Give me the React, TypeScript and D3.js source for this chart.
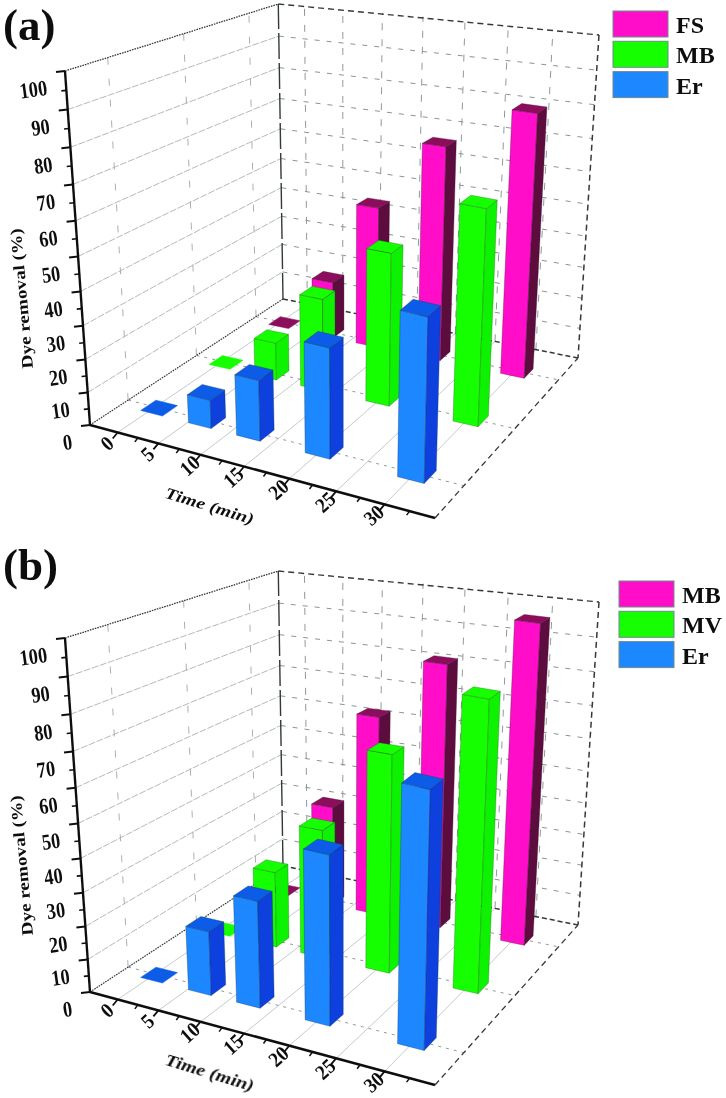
import React from "react";
import * as d3 from "d3";

// Values. Rows go front to back.
const timeTicks = [0, 5, 10, 15, 20, 25, 30];
const minorTimeTicks = [2.5, 7.5, 12.5, 17.5, 22.5, 27.5, 32.5];
const dyeTicks = [0, 10, 20, 30, 40, 50, 60, 70, 80, 90, 100];
const minorDyeTicks = [5, 15, 25, 35, 45, 55, 65, 75, 85, 95];
const barTimes = [0.5, 6.5, 12.3, 20.2, 30.2];

const rowsA = ["Er", "MB", "FS"];
const erA = [0, 8.7, 18.4, 33, 48.4];
const mbA = [0, 12, 29, 47, 65];
const fsA = [0, 19, 46, 68, 81.5];

const rowsB = ["Er", "MV", "MB"];
const erB = [0, 19.5, 32, 50, 74];
const mvB = [0, 24, 40, 66, 86];
const mbB = [0, 33, 64, 82.5, 97.5];

const legendA = ["FS", "MB", "Er"];
const legendB = ["MB", "MV", "Er"];

type Pt = [number, number];

// front-left, front-right, back-right, back-left corners of the box
const floorQuad: Pt[] = [[90, 425], [435, 518], [578, 358], [283, 299]];
const topQuad: Pt[] = [[65, 71], [445, 153], [599, 35], [279, 4]];
// verticals of the box all run to this point far below the picture
const vanish: Pt = [342, 3992];

const rowColors = [
  { front: "#1e87ff", top: "#0f5ce8", side: "#0a40dc", edge: "#12324f" },
  { front: "#12ff00", top: "#12ff00", side: "#10f200", edge: "#1d5a1d" },
  { front: "#ff10c8", top: "#8c0f5c", side: "#5c0d3e", edge: "#3a1030" },
];

function quadMap(q: Pt[]) {
  const [[x0, y0], [x1, y1], [x2, y2], [x3, y3]] = q;
  const dx1 = x1 - x2, dx2 = x3 - x2, sx = x0 - x1 + x2 - x3;
  const dy1 = y1 - y2, dy2 = y3 - y2, sy = y0 - y1 + y2 - y3;
  const den = dx1 * dy2 - dx2 * dy1;
  const g = (sx * dy2 - dx2 * sy) / den;
  const h = (dx1 * sy - sx * dy1) / den;
  const a = x1 - x0 + g * x1, b = x3 - x0 + h * x3;
  const d = y1 - y0 + g * y1, e = y3 - y0 + h * y3;
  return (u: number, w: number): Pt => {
    const k = g * u + h * w + 1;
    return [(a * u + b * w + x0) / k, (d * u + e * w + y0) / k];
  };
}

const floorMap = quadMap(floorQuad);
const topMap = quadMap(topQuad);

const uScale = d3.scaleLinear().domain([-3.5, 35]).range([0, 1]);
const vScale = d3.scaleLinear().domain([0, 100]).range([0, 1]);

// time, depth (0..1), dye value -> screen. The vertical is foreshortened towards the floor.
const foreshorten = 1.1;
function project(t: number, w: number, v: number): Pt {
  const u = uScale(t);
  const a = floorMap(u, w);
  const b = topMap(u, w);
  const s = vScale(v);
  const k = s / (s + (1 - s) * foreshorten);
  const y = a[1] + (b[1] - a[1]) * k;
  const x = a[0] + ((vanish[0] - a[0]) * (y - a[1])) / (vanish[1] - a[1]);
  return [x, y];
}

const lineGen = d3.line<Pt>();
const path = (pts: Pt[]) => lineGen(pts) as string;
const poly = (pts: Pt[]) => path(pts) + "Z";

const halfT = 1.38;
const halfW = 0.035;
const serif = "'Liberation Serif', 'DejaVu Serif', serif";

function Bar({ t, w, v, c }: { t: number; w: number; v: number; c: any }) {
  const t0 = t - halfT, t1 = t + halfT, w0 = w - halfW, w1 = w + halfW;
  const topFace = [project(t0, w0, v), project(t1, w0, v), project(t1, w1, v), project(t0, w1, v)];
  if (v === 0) return <path d={poly(topFace)} fill={c.top} stroke={c.top} strokeWidth={0.5} />;
  const front = [project(t0, w0, 0), project(t1, w0, 0), project(t1, w0, v), project(t0, w0, v)];
  const side = [project(t1, w0, 0), project(t1, w1, 0), project(t1, w1, v), project(t1, w0, v)];
  return (
    <g stroke={c.edge} strokeWidth={0.6} strokeOpacity={0.55} strokeLinejoin="round">
      <path d={poly(front)} fill={c.front} />
      <path d={poly(side)} fill={c.side} />
      <path d={poly(topFace)} fill={c.top} />
    </g>
  );
}

function Panel({ label, labelY, dy, rows, series, legend, legendX, legendY }: any) {
  const band = d3.scaleBand<string>().domain(rows).range([0, 1]);
  const rowW = (r: string) => (band(r) as number) + band.bandwidth() / 2;
  const tMin = uScale.domain()[0];
  const tMax = uScale.domain()[1];
  const c000 = project(tMin, 0, 0), c100 = project(tMax, 0, 0), c110 = project(tMax, 1, 0), c010 = project(tMin, 1, 0);
  const c001 = project(tMin, 0, 100), c011 = project(tMin, 1, 100), c111 = project(tMax, 1, 100);

  return (
    <g>
      <text x={3} y={labelY} fontFamily={serif} fontWeight="bold" fontSize={45} fill="#111">{label}</text>
      <g transform={`translate(0,${dy})`}>
        {/* wall grid */}
        {dyeTicks.slice(1, -1).map((v) => (
          <g key={v} fill="none">
            <path d={path([project(tMin, 0, v), project(tMin, 1, v)])} stroke="#a8b2b2" strokeWidth={0.9} strokeDasharray="7 1.5" />
            <path d={path([project(tMin, 1, v), project(tMax, 1, v)])} stroke="#8a9494" strokeWidth={1} strokeDasharray="5 7" />
          </g>
        ))}
        {rows.map((r: string) => (
          <path key={r} d={path([project(tMin, rowW(r), 0), project(tMin, rowW(r), 100)])} fill="none" stroke="#a8b2b2" strokeWidth={1} strokeDasharray="7 14" />
        ))}
        {timeTicks.map((t) => (
          <path key={t} d={path([project(t, 1, 0), project(t, 1, 100)])} fill="none" stroke="#8f9a9a" strokeWidth={1} strokeDasharray="7 9" />
        ))}
        {/* floor grid */}
        {timeTicks.map((t) => (
          <path key={t} d={path([project(t, 0, 0), project(t, 1, 0)])} fill="none" stroke="#c4cbcb" strokeWidth={1} />
        ))}
        {rows.map((r: string) => (
          <path key={r} d={path([project(tMin, rowW(r), 0), project(tMax, rowW(r), 0)])} fill="none" stroke="#8f9a9a" strokeWidth={1} strokeDasharray="3 5" />
        ))}
        {/* box edges */}
        <g fill="none" stroke="#33393b">
          <path d={path([c001, c011])} strokeWidth={1.3} strokeDasharray="1.6 1" />
          <path d={path([c000, c010])} strokeWidth={1.2} strokeDasharray="1.6 1" />
          <path d={path([c011, c111])} strokeWidth={1.4} strokeDasharray="6 4" />
          <path d={path([c111, c110])} strokeWidth={1.5} strokeDasharray="6 4" />
          <path d={path([c010, c110])} strokeWidth={1.5} strokeDasharray="5 3" />
          <path d={path([c100, c110])} strokeWidth={1.3} strokeDasharray="6 4" />
          <path d={path([c010, c011])} strokeWidth={1.4} strokeDasharray="26 4" />
        </g>
        {/* bars, back row first */}
        {[2, 1, 0].map((i) => (
          <g key={i}>
            {barTimes.map((t, j) => (
              <Bar key={t} t={t} w={rowW(rows[i])} v={series[i][j]} c={rowColors[i]} />
            ))}
          </g>
        ))}
        {/* y axis */}
        <path d={path([c000, c001])} fill="none" stroke="#111" strokeWidth={2.4} />
        {dyeTicks.map((v) => {
          const p = project(tMin, 0, v);
          return (
            <g key={v}>
              <line x1={p[0]} y1={p[1]} x2={p[0] - 9} y2={p[1] + 1} stroke="#111" strokeWidth={2} />
              <text
                transform={`translate(${p[0] - 17},${p[1] + 24}) rotate(-8) scale(0.92,1.12)`}
                textAnchor="end"
                fontFamily={serif}
                fontWeight="bold"
                fontSize={20}
                fill="#111"
              >
                {v}
              </text>
            </g>
          );
        })}
        {minorDyeTicks.map((v) => {
          const p = project(tMin, 0, v);
          return <line key={v} x1={p[0]} y1={p[1]} x2={p[0] - 5} y2={p[1] + 0.5} stroke="#111" strokeWidth={1.6} />;
        })}
        {/* time axis */}
        <path d={path([c000, c100])} fill="none" stroke="#111" strokeWidth={2.6} />
        {timeTicks.map((t) => {
          const p = project(t, 0, 0);
          return (
            <g key={t}>
              <line x1={p[0]} y1={p[1]} x2={p[0] - 5} y2={p[1] + 6} stroke="#111" strokeWidth={1.8} />
              <text
                transform={`translate(${p[0] - 6},${p[1] + 16}) rotate(-42) scale(1,1.1)`}
                textAnchor="middle"
                fontFamily={serif}
                fontWeight="bold"
                fontSize={19}
                fill="#111"
              >
                {t}
              </text>
            </g>
          );
        })}
        {minorTimeTicks.map((t) => {
          const p = project(t, 0, 0);
          return <line key={t} x1={p[0]} y1={p[1]} x2={p[0] - 3} y2={p[1] + 4} stroke="#111" strokeWidth={1.5} />;
        })}
        <text transform="translate(208,511) rotate(17) scale(1.25,1)" textAnchor="middle" fontFamily={serif} fontWeight="bold" fontStyle="italic" fontSize={16} fill="#111">
          Time (min)
        </text>
        <text transform="translate(27,298) rotate(-95) scale(1.2,1)" textAnchor="middle" fontFamily={serif} fontWeight="bold" fontSize={16} fill="#111">
          Dye removal (%)
        </text>
      </g>
      {/* legend */}
      {legend.map((name: string, i: number) => (
        <g key={name}>
          <rect x={legendX} y={legendY + i * 30.3} width={55} height={26} fill={rowColors[2 - i].front} stroke="#6f8a8a" strokeWidth={1} />
          <text x={legendX + 63} y={legendY + i * 30.3 + 22} fontFamily={serif} fontWeight="bold" fontSize={24} fill="#111">{name}</text>
        </g>
      ))}
    </g>
  );
}

export default function App() {
  return (
    <svg width={726} height={1098} style={{ position: "absolute", left: 0, top: 0, background: "#fff" }}>
      <defs>
        <filter id="soft" x="0" y="0" width="100%" height="100%">
          <feGaussianBlur stdDeviation="0.4" />
        </filter>
      </defs>
      <g filter="url(#soft)">
        <rect width={726} height={1098} fill="#fff" />
        <Panel label="(a)" labelY={40} dy={0} rows={rowsA} series={[erA, mbA, fsA]} legend={legendA} legendX={613} legendY={11} />
        <Panel label="(b)" labelY={580} dy={567} rows={rowsB} series={[erB, mvB, mbB]} legend={legendB} legendX={619} legendY={581} />
      </g>
    </svg>
  );
}
